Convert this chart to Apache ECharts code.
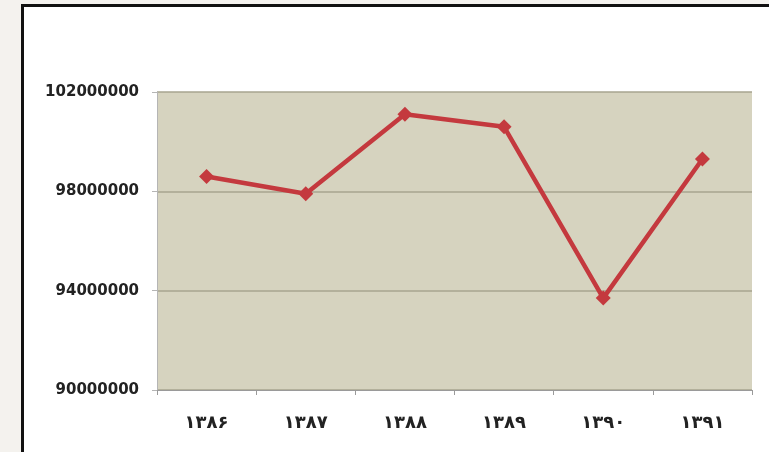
<!DOCTYPE html>
<html>
<head>
<meta charset="utf-8">
<script src="https://cdn.jsdelivr.net/npm/echarts@6/dist/echarts.min.js"></script>
<style>
html,body{margin:0;padding:0;background:#f4f2ee;}
#frame{position:absolute;left:21px;top:4px;width:760px;height:460px;border:3px solid #111;background:#fff;box-sizing:border-box;}
#chart{position:absolute;left:0;top:0;width:769px;height:452px;}
</style>
</head>
<body>
<div id="frame"></div>
<div id="chart"></div>
<script>
const categories = ['۱۳۸۶', '۱۳۸۷', '۱۳۸۸', '۱۳۸۹', '۱۳۹۰', '۱۳۹۱'];
const values = [98600000, 97900000, 101100000, 100600000, 93700000, 99300000];
const yMin = 90000000, yMax = 102000000, yStep = 4000000;

const chart = echarts.init(document.getElementById('chart'));
chart.setOption({
  backgroundColor: 'transparent',
  animation: false,
  grid: {
    left: 157, right: 17, top: 92, bottom: 62,
    show: true, backgroundColor: '#d6d3bf', borderWidth: 0
  },
  xAxis: {
    type: 'category',
    data: categories,
    boundaryGap: true,
    axisLine: { lineStyle: { color: '#9a9a9a', width: 1 } },
    axisTick: { show: true, length: 5, lineStyle: { color: '#9a9a9a' } },
    axisLabel: { margin: 24, color: '#222', fontSize: 18, fontWeight: 'bold', fontFamily: 'DejaVu Sans' }
  },
  yAxis: {
    type: 'value',
    min: yMin, max: yMax, interval: yStep,
    axisLine: { show: true, lineStyle: { color: '#b5b5b5' } },
    axisTick: { show: true, length: 5, lineStyle: { color: '#b5b5b5' } },
    splitLine: { lineStyle: { color: '#a7a48f', width: 1.5 } },
    axisLabel: {
      margin: 18, color: '#222', fontSize: 15, fontWeight: 'bold', fontFamily: 'DejaVu Sans',
      formatter: v => String(v)
    }
  },
  series: [{
    type: 'line',
    data: values,
    symbol: 'diamond',
    symbolSize: 15,
    itemStyle: { color: '#c4393e' },
    lineStyle: { color: '#c4393e', width: 4.5 }
  }]
});
</script>
</body>
</html>
